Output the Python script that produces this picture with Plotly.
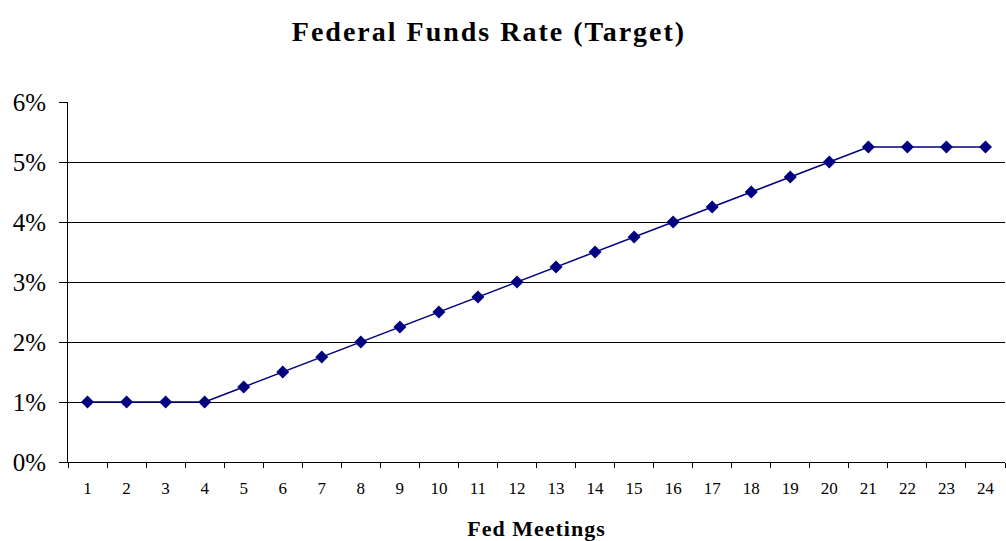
import plotly.graph_objects as go

meetings = [str(i) for i in range(1, 25)]
rate = [0.01, 0.01, 0.01, 0.01, 0.0125, 0.015, 0.0175, 0.02, 0.0225, 0.025, 0.0275, 0.03,
        0.0325, 0.035, 0.0375, 0.04, 0.0425, 0.045, 0.0475, 0.05, 0.0525, 0.0525, 0.0525, 0.0525]

W, H = 1006, 541
fig = go.Figure(go.Scatter(
    x=meetings, y=rate, mode="lines+markers",
    line=dict(color="#000080", width=1.5),
    marker=dict(symbol="diamond", size=10, color="#000080"),
))

serif = "'Times New Roman', 'Liberation Serif', Times, serif"
fig.update_layout(
    width=W, height=H,
    margin=dict(l=68, r=1, t=102, b=79),
    paper_bgcolor="white", plot_bgcolor="white",
    showlegend=False,
    font=dict(family=serif, color="black"),
    title=dict(text='<span style="letter-spacing:2px"><b>Federal Funds Rate (Target)</b></span>',
               x=489 / W, xanchor="center",
               y=1 - 31 / H, yanchor="middle", font=dict(size=28, family=serif, color="black")),
)
fig.update_xaxes(
    type="category", tickson="boundaries", ticks="outside", ticklen=5, tickcolor="black",
    showline=True, linecolor="black", linewidth=1, showgrid=False,
    tickfont=dict(size=17, family=serif), range=[-0.5, 23.5], ticklabelstandoff=11,
    title=dict(text='<span style="letter-spacing:1px"><b>Fed Meetings</b></span>',
               font=dict(size=22, family=serif), standoff=25),
)
fig.update_yaxes(
    range=[0, 0.06], dtick=0.01, tickformat=".0%", ticks="outside", ticklen=8, tickcolor="black",
    showline=True, linecolor="black", linewidth=1,
    showgrid=True, gridcolor="black", gridwidth=1, zeroline=False,
    tickfont=dict(size=25, family=serif), ticklabelstandoff=8,
)
fig.write_html("out.html")
